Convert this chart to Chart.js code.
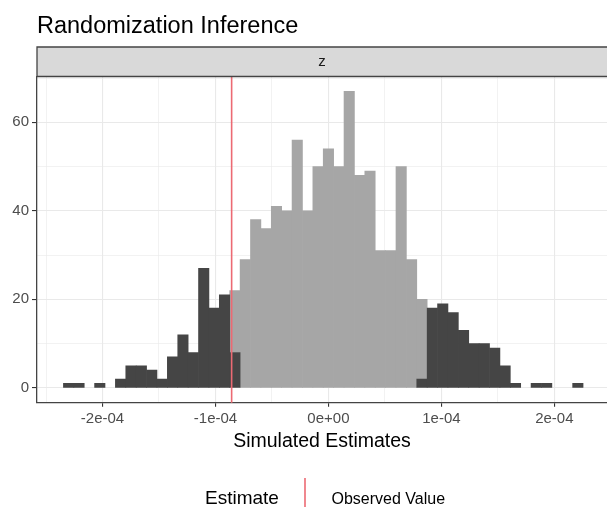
<!DOCTYPE html>
<html><head><meta charset="utf-8">
<script src="https://cdn.jsdelivr.net/npm/chart.js@4/dist/chart.umd.min.js"></script>
<style>html,body{margin:0;padding:0;background:#fff}canvas{display:block}</style>
</head><body>
<canvas id="c" width="607" height="507"></canvas>
<script>
// Histogram bin centres (in units of 1e-6)
const binCentersE6 = [-230.0,-220.8,-211.6,-202.4,-193.2,-184.0,-174.8,-165.6,-156.4,-147.2,
  -138.0,-128.8,-119.6,-110.4,-101.2,-92.0,-82.8,-73.6,-64.4,-55.2,
  -46.0,-36.8,-27.6,-18.4,-9.2,0.0,9.2,18.4,27.6,36.8,
  46.0,55.2,64.4,73.6,82.8,92.0,101.2,110.4,119.6,128.8,
  138.0,147.2,156.4,165.6,174.8,184.0,193.2,202.4,211.6,220.8];
// counts with |estimate| >= |observed| (dark)
const tailCounts = [1,1,0,1,0,2,5,5,4,2,7,12,8,27,18,21,8,
  0,0,0,0,0,0,0,0,0,0,0,0,0,0,0,0,0,
  2,18,19,17,13,10,10,9,5,1,0,1,1,0,0,1];
// counts with |estimate| < |observed| (light)
const centerCounts = [0,0,0,0,0,0,0,0,0,0,0,0,0,0,0,0,
  14,29,38,36,41,40,56,40,50,54,50,67,48,49,31,31,50,29,18,
  0,0,0,0,0,0,0,0,0,0,0,0,0,0,0];
const observedValue = -8.57e-5;
const xMajorTicks = [-2e-4,-1e-4,0,1e-4,2e-4];
const xTickLabels = ['-2e-04','-1e-04','0e+00','1e-04','2e-04'];
const xMinorTicks = [-2.5e-4,-1.5e-4,-0.5e-4,0.5e-4,1.5e-4];
const yMajorTicks = [0,20,40,60];
const yMinorTicks = [10,30,50,70];
const chartTitle = 'Randomization Inference';
const facetLabel = 'z';
const xAxisTitle = 'Simulated Estimates';
const legendTitle = 'Estimate';
const legendLabel = 'Observed Value';

const FONT = '"Liberation Sans", Arial, Helvetica, sans-serif';
Chart.defaults.font.family = FONT;

const isMajor = (v, majors) => majors.some(m => Math.abs(m - v) < 1e-12);

const deco = {
  id: 'deco',
  beforeDraw(chart) {
    const ctx = chart.ctx;
    ctx.save();
    ctx.fillStyle = '#ffffff';
    ctx.fillRect(0, 0, chart.width, chart.height);
    ctx.restore();
  },
  afterDatasetsDraw(chart) {
    const {ctx, chartArea: a, scales} = chart;
    const x = scales.x.getPixelForValue(observedValue);
    ctx.save();
    ctx.strokeStyle = '#ec6a73';
    ctx.lineWidth = 1.6;
    ctx.beginPath();
    ctx.moveTo(x, a.top);
    ctx.lineTo(x, a.bottom);
    ctx.stroke();
    ctx.restore();
  },
  afterDraw(chart) {
    const {ctx, chartArea: a} = chart;
    ctx.save();
    // title
    ctx.fillStyle = '#000';
    ctx.textBaseline = 'alphabetic';
    ctx.textAlign = 'left';
    ctx.font = '23.5px ' + FONT;
    ctx.fillText(chartTitle, 37, 32.5);
    // strip
    const sTop = 47;
    ctx.fillStyle = '#d9d9d9';
    ctx.fillRect(a.left, sTop, a.right - a.left + 2, a.top - sTop);
    ctx.strokeStyle = '#444';
    ctx.lineWidth = 1.3;
    ctx.beginPath();
    ctx.moveTo(a.right + 2, sTop); ctx.lineTo(a.left, sTop); ctx.lineTo(a.left, a.top);
    ctx.moveTo(a.left, a.top); ctx.lineTo(a.right + 2, a.top);
    ctx.stroke();
    ctx.fillStyle = '#1a1a1a';
    ctx.font = '15px ' + FONT;
    ctx.textAlign = 'center';
    ctx.fillText(facetLabel, (a.left + a.right) / 2, 66);
    // x axis title
    ctx.fillStyle = '#000';
    ctx.font = '19.5px ' + FONT;
    ctx.fillText(xAxisTitle, (a.left + a.right) / 2, 447);
    // legend
    ctx.textAlign = 'left';
    ctx.font = '19px ' + FONT;
    ctx.fillText(legendTitle, 205, 503.5);
    ctx.strokeStyle = '#ec6a73';
    ctx.lineWidth = 1.6;
    ctx.beginPath();
    ctx.moveTo(305, 478); ctx.lineTo(305, 507);
    ctx.stroke();
    ctx.fillStyle = '#000';
    ctx.font = '16px ' + FONT;
    ctx.fillText(legendLabel, 331.5, 503.5);
    ctx.restore();
  }
};

const mk = (counts) => binCentersE6.map((c, i) => ({x: c * 1e-6, y: counts[i]}));
const fillFor = (col) => (c) => (c.raw && c.raw.y > 0) ? col : 'rgba(0,0,0,0)';

new Chart(document.getElementById('c'), {
  type: 'bar',
  data: {
    datasets: [
      {label: 'tail', data: mk(tailCounts), backgroundColor: fillFor('#454545'), borderWidth: 0,
       barPercentage: 1, categoryPercentage: 1},
      {label: 'center', data: mk(centerCounts), backgroundColor: fillFor('#a6a6a6'), borderWidth: 0,
       barPercentage: 1, categoryPercentage: 1}
    ]
  },
  options: {
    responsive: false,
    animation: false,
    devicePixelRatio: 1,
    layout: {autoPadding: false, padding: {top: 76.5, left: 0, right: 0, bottom: 0}},
    plugins: {legend: {display: false}, tooltip: {enabled: false}, title: {display: false}},
    scales: {
      x: {
        type: 'linear', stacked: true, offset: false, min: -2.58e-4, max: 2.466e-4,
        afterFit: s => { s.height = 104.3; s.paddingLeft = 0; s.paddingRight = 0; },
        afterBuildTicks: s => {
          s.ticks = [...xMajorTicks, ...xMinorTicks].sort((p, q) => p - q).map(v => ({value: v}));
        },
        ticks: {
          autoSkip: false, maxRotation: 0, padding: 3, color: '#4d4d4d', font: {size: 15},
          callback: (v) => { const i = xMajorTicks.findIndex(m => Math.abs(m - v) < 1e-12); return i >= 0 ? xTickLabels[i] : ''; }
        },
        grid: {
          offset: false,
          color: '#e9e9e9',
          lineWidth: c => (c.tick && isMajor(c.tick.value, xMajorTicks)) ? 1.1 : 0.6,
          tickColor: c => (c.tick && isMajor(c.tick.value, xMajorTicks)) ? '#333' : 'rgba(0,0,0,0)',
          tickLength: 4, tickWidth: 1.1
        },
        border: {color: '#444', width: 1.3}
      },
      y: {
        type: 'linear', stacked: true, min: -3.35, max: 70.35,
        afterFit: s => { s.width = 37; },
        afterBuildTicks: s => {
          s.ticks = [...yMajorTicks, ...yMinorTicks].sort((p, q) => p - q).map(v => ({value: v}));
        },
        ticks: {
          autoSkip: false, padding: 3, color: '#4d4d4d', font: {size: 15},
          callback: (v) => isMajor(v, yMajorTicks) ? String(v) : ''
        },
        grid: {
          color: '#e9e9e9',
          lineWidth: c => (c.tick && isMajor(c.tick.value, yMajorTicks)) ? 1.1 : 0.6,
          tickColor: c => (c.tick && isMajor(c.tick.value, yMajorTicks)) ? '#333' : 'rgba(0,0,0,0)',
          tickLength: 5, tickWidth: 1.1
        },
        border: {color: '#444', width: 1.3}
      }
    }
  },
  plugins: [deco]
});
</script>
</body></html>
